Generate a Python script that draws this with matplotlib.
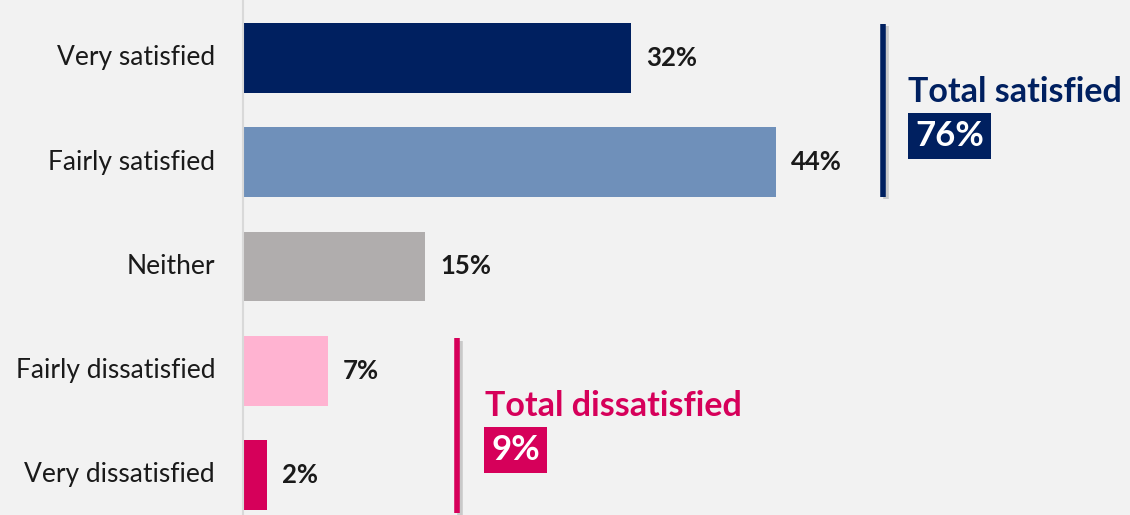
import matplotlib
matplotlib.use('Agg')
import matplotlib.pyplot as plt
import matplotlib.patheffects as pe

plt.rcParams['font.family'] = ['Lato', 'DejaVu Sans']

categories = ["Very satisfied", "Fairly satisfied", "Neither",
              "Fairly dissatisfied", "Very dissatisfied"]
values = [32, 44, 15, 7, 2]
colors = ["#002060", "#6F90BA", "#B0ADAD", "#FFB3D1", "#D6005A"]

sat_color = "#002060"
dis_color = "#D6005A"
total_sat = values[0] + values[1]
total_dis = values[3] + values[4]

W, H = 1130, 515
fig = plt.figure(figsize=(W / 100, H / 100), dpi=100)
fig.patch.set_facecolor('#F2F2F2')

# axes starts at the category baseline; 1% of scale is ~12.1 px
left_px = 243
ax = fig.add_axes([left_px / W, 0, 1 - left_px / W, 1])
ax.set_facecolor('#F2F2F2')
px_per_pct = 12.12
ax.set_xlim(0, (W - left_px) / px_per_pct)
step = 104.25
ax.set_ylim((H - 58) / step, -58 / step)

ypos = list(range(len(categories)))
ax.barh(ypos, values, height=0.67, color=colors, zorder=2)

for y, v in zip(ypos, values):
    ax.text(v + 1.25, y, f"{v}%", va='center', ha='left',
            fontsize=18.5, fontweight='bold', color='#1A1A1A')

for y, c in zip(ypos, categories):
    ax.text(-2.3, y, c, va='center', ha='right', fontsize=19, color='#1A1A1A')

for s in ['top', 'right', 'bottom']:
    ax.spines[s].set_visible(False)
ax.spines['left'].set_color('#D9D9D9')
ax.spines['left'].set_linewidth(1.5)
ax.set_xticks([])
ax.set_yticks([])

shadow = [pe.SimpleLineShadow(offset=(2.5, -1.5), shadow_color='#999999', alpha=0.45),
          pe.Normal()]

# total satisfied bracket
bx = (883 - left_px) / px_per_pct
ax.plot([bx, bx], [-0.33, 1.33], color=sat_color, lw=4,
        solid_capstyle='butt', path_effects=shadow, clip_on=False)
tx = (908 - left_px) / px_per_pct
ax.text(tx, (92 - 58) / step, "Total satisfied", ha='left', va='center',
        fontsize=24.5, fontweight='bold', color=sat_color)
ax.text(tx + 0.6, (136 - 58) / step, f"{total_sat}%", ha='left', va='center',
        fontsize=25, fontweight='bold', color='white',
        bbox=dict(boxstyle='square,pad=0.2', facecolor=sat_color, edgecolor='none'))

# total dissatisfied bracket
dx = (457 - left_px) / px_per_pct
ax.plot([dx, dx], [2.69, 4.36], color=dis_color, lw=4,
        solid_capstyle='butt', path_effects=shadow, clip_on=False)
tx2 = (485 - left_px) / px_per_pct
ax.text(tx2, (406 - 58) / step, "Total dissatisfied", ha='left', va='center',
        fontsize=24.5, fontweight='bold', color=dis_color)
ax.text(tx2 + 0.5, (450 - 58) / step, f"{total_dis}%", ha='left', va='center',
        fontsize=25, fontweight='bold', color='white',
        bbox=dict(boxstyle='square,pad=0.2', facecolor=dis_color, edgecolor='none'))

fig.savefig('out.png', dpi=100, facecolor=fig.get_facecolor())
